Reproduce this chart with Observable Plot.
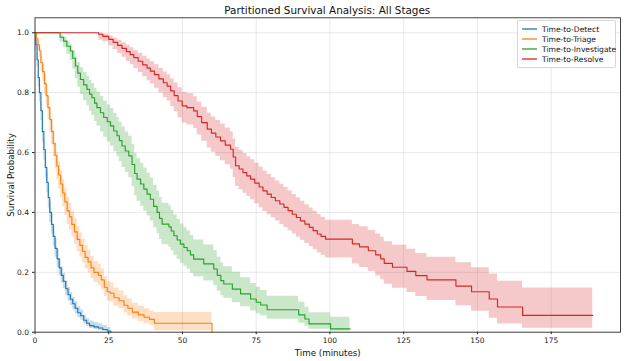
<!DOCTYPE html>
<html><head><meta charset="utf-8">
<script src="https://cdn.jsdelivr.net/npm/d3@7"></script>
<script src="https://cdn.jsdelivr.net/npm/@observablehq/plot@0.6"></script>
<style>
html,body{margin:0;padding:0;background:#fff;}
body{font-family:"DejaVu Sans",sans-serif;}
#wrap{position:relative;width:624px;height:361px;overflow:hidden;}
#title{position:absolute;left:34.5px;width:585.5px;top:5px;text-align:center;font-size:10.4px;line-height:1;color:#111;white-space:nowrap;}
#legend{position:absolute;left:517px;top:20px;width:99px;box-sizing:border-box;padding:3px;border:1px solid #d6d6d6;border-radius:2px;background:rgba(255,255,255,0.85);}
.row{display:flex;align-items:center;height:10px;font-size:7.6px;color:#111;white-space:nowrap;}
.sw{width:16px;height:10px;margin-right:5px;flex:none;display:block;}
</style></head>
<body><div id="wrap"><div id="title"></div><div id="legend"></div></div>
<script>
// ---- data ----
const seriesNames = ["Time-to-Detect", "Time-to-Triage", "Time-to-Investigate", "Time-to-Resolve"];
const xTicks = [0, 25, 50, 75, 100, 125, 150, 175];
const yTicks = [0, 0.2, 0.4, 0.6, 0.8, 1.0];

const detectT  = [0, 0.3, 0.7, 1.1, 1.5, 2.0, 2.5, 3.0, 3.5, 4.0, 4.5, 5.0, 5.6, 6.2, 6.8, 7.5, 8.2, 8.9, 9.6, 10.4, 11.2, 12.0, 12.8, 13.6, 14.5, 15.5, 16.5, 17.5, 18.5, 20.0, 21.5, 23.0, 24.5, 25.7];
const detectS  = [1, 0.96, 0.91, 0.85, 0.80, 0.74, 0.67, 0.61, 0.55, 0.50, 0.45, 0.40, 0.36, 0.32, 0.28, 0.245, 0.215, 0.19, 0.17, 0.145, 0.125, 0.11, 0.095, 0.08, 0.065, 0.055, 0.04, 0.03, 0.022, 0.018, 0.014, 0.009, 0.004, 0];
const detectLo = [1, 0.94, 0.885, 0.82, 0.77, 0.707, 0.636, 0.575, 0.515, 0.465, 0.415, 0.366, 0.327, 0.288, 0.25, 0.216, 0.188, 0.164, 0.145, 0.122, 0.103, 0.089, 0.075, 0.062, 0.048, 0.04, 0.027, 0.019, 0.012, 0.009, 0.006, 0.003, 0.001, 0];
const detectHi = [1, 0.975, 0.93, 0.875, 0.827, 0.77, 0.702, 0.644, 0.585, 0.535, 0.485, 0.434, 0.394, 0.353, 0.312, 0.276, 0.245, 0.218, 0.197, 0.17, 0.149, 0.133, 0.117, 0.101, 0.085, 0.074, 0.057, 0.046, 0.037, 0.032, 0.028, 0.022, 0.016, 0];

const triageT  = [0, 0.4, 1.0, 1.5, 2.0, 2.6, 3.2, 3.8, 4.4, 5.0, 5.6, 6.2, 6.8, 7.4, 8.0, 8.7, 9.4, 10.1, 10.9, 11.7, 12.5, 13.4, 14.3, 15.2, 16.1, 17.0, 18.0, 19.0, 20.0, 21.5, 22.5, 23.5, 24.5, 25.5, 26.8, 28.5, 30.2, 31.5, 33.0, 35.0, 37.0, 38.8, 40.5, 60.0];
const triageS  = [1, 0.98, 0.96, 0.94, 0.90, 0.87, 0.83, 0.79, 0.75, 0.71, 0.67, 0.63, 0.59, 0.555, 0.525, 0.495, 0.465, 0.435, 0.405, 0.385, 0.36, 0.335, 0.31, 0.29, 0.27, 0.25, 0.235, 0.215, 0.20, 0.19, 0.175, 0.15, 0.135, 0.13, 0.115, 0.105, 0.09, 0.08, 0.067, 0.058, 0.05, 0.043, 0.03, 0];
const triageLo = [1, 0.965, 0.941, 0.918, 0.872, 0.839, 0.795, 0.752, 0.71, 0.668, 0.627, 0.586, 0.545, 0.51, 0.479, 0.449, 0.419, 0.39, 0.36, 0.341, 0.317, 0.293, 0.269, 0.25, 0.231, 0.212, 0.198, 0.179, 0.165, 0.156, 0.142, 0.119, 0.105, 0.1, 0.087, 0.078, 0.064, 0.055, 0.044, 0.036, 0.029, 0.023, 0.005, 0];
const triageHi = [1, 0.989, 0.974, 0.957, 0.922, 0.895, 0.86, 0.824, 0.786, 0.748, 0.71, 0.672, 0.633, 0.599, 0.569, 0.54, 0.51, 0.48, 0.45, 0.43, 0.404, 0.378, 0.352, 0.331, 0.311, 0.29, 0.274, 0.253, 0.237, 0.227, 0.211, 0.185, 0.169, 0.164, 0.148, 0.138, 0.122, 0.111, 0.097, 0.087, 0.078, 0.071, 0.066, 0];

const investT  = [0, 7.2, 8.5, 9.7, 10.8, 12.0, 12.8, 13.7, 14.5, 15.4, 16.5, 17.6, 18.5, 19.3, 20.2, 21.0, 22.2, 23.3, 24.5, 25.6, 26.7, 27.8, 28.6, 29.5, 30.6, 31.8, 32.9, 33.8, 34.6, 35.8, 36.9, 38.0, 39.1, 40.2, 41.4, 42.2, 43.1, 45.4, 46.2, 47.1, 48.2, 49.3, 50.5, 51.6, 52.7, 53.8, 57.2, 60.6, 61.8, 63.0, 64.0, 66.9, 69.7, 73.1, 75.0, 76.5, 78.7, 89.4, 91.5, 92.9, 100.2, 106.8];
const investS  = [1, 1, 0.985, 0.972, 0.955, 0.939, 0.915, 0.889, 0.865, 0.844, 0.826, 0.811, 0.795, 0.783, 0.765, 0.75, 0.733, 0.717, 0.703, 0.689, 0.672, 0.656, 0.64, 0.622, 0.605, 0.589, 0.56, 0.53, 0.511, 0.495, 0.478, 0.461, 0.444, 0.42, 0.40, 0.38, 0.361, 0.352, 0.338, 0.322, 0.308, 0.294, 0.283, 0.272, 0.258, 0.244, 0.228, 0.211, 0.19, 0.172, 0.161, 0.144, 0.128, 0.111, 0.1, 0.091, 0.075, 0.058, 0.044, 0.028, 0.011, 0.011];
const investLo = [1, 1, 0.968, 0.95, 0.928, 0.907, 0.878, 0.847, 0.818, 0.794, 0.773, 0.756, 0.738, 0.724, 0.704, 0.688, 0.669, 0.651, 0.636, 0.621, 0.603, 0.586, 0.569, 0.55, 0.533, 0.516, 0.486, 0.456, 0.437, 0.421, 0.404, 0.388, 0.371, 0.348, 0.329, 0.31, 0.292, 0.284, 0.271, 0.256, 0.243, 0.23, 0.22, 0.21, 0.197, 0.185, 0.171, 0.156, 0.137, 0.122, 0.113, 0.098, 0.085, 0.071, 0.062, 0.055, 0.043, 0.03, 0.02, 0.01, 0.003, 0.003];
const investHi = [1, 1, 0.993, 0.985, 0.972, 0.96, 0.941, 0.92, 0.9, 0.883, 0.867, 0.855, 0.841, 0.831, 0.815, 0.802, 0.787, 0.772, 0.759, 0.747, 0.731, 0.716, 0.701, 0.685, 0.669, 0.654, 0.627, 0.598, 0.58, 0.564, 0.548, 0.531, 0.515, 0.491, 0.471, 0.451, 0.431, 0.422, 0.407, 0.391, 0.376, 0.361, 0.349, 0.338, 0.323, 0.308, 0.291, 0.273, 0.25, 0.231, 0.219, 0.2, 0.182, 0.163, 0.15, 0.139, 0.12, 0.1, 0.083, 0.065, 0.05, 0.05];

const resolveT  = [0, 21.6, 23.0, 25.0, 26.5, 28.0, 29.5, 31.0, 32.3, 33.5, 35.0, 36.5, 38.0, 39.1, 40.5, 42.0, 43.5, 44.8, 46.0, 47.2, 48.5, 49.9, 51.5, 53.8, 55.0, 56.5, 58.4, 59.8, 61.3, 62.9, 64.5, 66.3, 67.2, 68.0, 69.2, 70.5, 71.8, 73.1, 74.5, 76.0, 77.3, 78.7, 80.1, 81.5, 83.0, 84.4, 85.8, 87.2, 88.6, 90.0, 91.5, 93.0, 94.3, 95.7, 97.0, 98.5, 107.6, 110.0, 113.0, 115.5, 117.2, 118.4, 121.2, 126.1, 129.1, 132.9, 142.7, 148.0, 154.0, 156.8, 165.3, 189.1];
const resolveS  = [1, 0.995, 0.988, 0.978, 0.968, 0.958, 0.948, 0.937, 0.927, 0.917, 0.905, 0.893, 0.882, 0.872, 0.86, 0.846, 0.833, 0.822, 0.806, 0.79, 0.772, 0.756, 0.75, 0.739, 0.72, 0.70, 0.678, 0.665, 0.652, 0.639, 0.625, 0.611, 0.585, 0.556, 0.545, 0.533, 0.522, 0.511, 0.498, 0.485, 0.472, 0.461, 0.45, 0.439, 0.428, 0.417, 0.406, 0.394, 0.383, 0.372, 0.361, 0.35, 0.339, 0.328, 0.32, 0.311, 0.295, 0.285, 0.272, 0.258, 0.245, 0.23, 0.217, 0.203, 0.189, 0.175, 0.154, 0.135, 0.111, 0.084, 0.056, 0.056];
const resolveLo = [1, 0.975, 0.97, 0.957, 0.944, 0.931, 0.918, 0.905, 0.893, 0.881, 0.867, 0.853, 0.84, 0.829, 0.815, 0.799, 0.784, 0.772, 0.754, 0.736, 0.716, 0.699, 0.692, 0.68, 0.659, 0.638, 0.615, 0.601, 0.587, 0.573, 0.559, 0.544, 0.517, 0.487, 0.476, 0.464, 0.453, 0.442, 0.429, 0.416, 0.403, 0.392, 0.382, 0.371, 0.36, 0.35, 0.339, 0.328, 0.317, 0.307, 0.296, 0.286, 0.275, 0.265, 0.257, 0.248, 0.228, 0.216, 0.203, 0.188, 0.175, 0.16, 0.147, 0.133, 0.119, 0.106, 0.088, 0.07, 0.047, 0.027, 0.013, 0.013];
const resolveHi = [1, 0.999, 0.995, 0.989, 0.982, 0.975, 0.967, 0.958, 0.95, 0.942, 0.932, 0.922, 0.912, 0.903, 0.893, 0.881, 0.869, 0.86, 0.846, 0.832, 0.816, 0.801, 0.796, 0.786, 0.769, 0.751, 0.731, 0.719, 0.707, 0.695, 0.682, 0.669, 0.645, 0.618, 0.608, 0.597, 0.586, 0.576, 0.564, 0.551, 0.538, 0.527, 0.516, 0.505, 0.494, 0.483, 0.472, 0.46, 0.449, 0.437, 0.426, 0.415, 0.404, 0.393, 0.384, 0.374, 0.36, 0.352, 0.34, 0.328, 0.316, 0.302, 0.29, 0.277, 0.263, 0.25, 0.232, 0.215, 0.194, 0.17, 0.148, 0.148];

// ---- styles ----
const colors = ["#1f77b4", "#ff7f0e", "#2ca02c", "#d62728"];

const groups = [
  [detectT, detectS, detectLo, detectHi],
  [triageT, triageS, triageLo, triageHi],
  [investT, investS, investLo, investHi],
  [resolveT, resolveS, resolveLo, resolveHi]
];
const rows = [];
groups.forEach(([T, S, L, H], gi) => {
  T.forEach((t, i) => rows.push({series: seriesNames[gi], t, s: S[i], lo: L[i], hi: H[i]}));
});

const seriesMarks = [];
seriesNames.forEach((name, gi) => {
  const d = rows.filter(r => r.series === name);
  seriesMarks.push(Plot.areaY(d, {x: "t", y1: "lo", y2: "hi", curve: "step-after", fill: colors[gi], fillOpacity: 0.25}));
  seriesMarks.push(Plot.line(d, {x: "t", y: "s", curve: "step-after", stroke: colors[gi], strokeWidth: 1.15}));
});

const chart = Plot.plot({
  width: 624, height: 361,
  marginLeft: 34.5, marginRight: 4, marginTop: 17.3, marginBottom: 29.3,
  style: {fontFamily: "DejaVu Sans, sans-serif", fontSize: "7.5px", color: "#222", background: "#fff", overflow: "visible"},
  x: {domain: [0, 198.5]},
  y: {domain: [0, 1.05]},
  marks: [
    Plot.gridX(xTicks, {stroke: "#b0b0b0", strokeOpacity: 0.35, strokeWidth: 0.8}),
    Plot.gridY(yTicks, {stroke: "#b0b0b0", strokeOpacity: 0.35, strokeWidth: 0.8}),
    ...seriesMarks,
    Plot.frame({stroke: "#333", strokeWidth: 0.9}),
    Plot.axisX(xTicks, {tickSize: 2.5, tickPadding: 3.3, tickFormat: d => String(d), label: "Time (minutes)", labelAnchor: "center", labelArrow: "none", labelOffset: 24, fontSize: 7.5}),
    Plot.axisY(yTicks, {tickSize: 2.5, tickPadding: 3.5, tickFormat: d3.format(".1f"), label: "Survival Probability", labelAnchor: "center", labelArrow: "none", labelOffset: 27, fontSize: 7.5})
  ]
});

chart.querySelectorAll("[aria-label='x-axis label'] text, [aria-label='y-axis label'] text").forEach(t => {
  t.style.fontSize = "8.7px"; t.style.fill = "#111";
});

const wrap = document.getElementById("wrap");
wrap.appendChild(chart);
chart.style.position = "absolute"; chart.style.left = "0"; chart.style.top = "0";
const title = document.getElementById("title");
title.textContent = "Partitioned Survival Analysis: All Stages";
wrap.appendChild(title);
const legend = document.getElementById("legend");
const NS = "http://www.w3.org/2000/svg";
seriesNames.forEach((name, gi) => {
  const row = document.createElement("div"); row.className = "row";
  const sw = document.createElementNS(NS, "svg"); sw.setAttribute("class", "sw");
  sw.setAttribute("width", "16"); sw.setAttribute("height", "10");
  const ln = document.createElementNS(NS, "line");
  ln.setAttribute("x1", "1"); ln.setAttribute("x2", "16"); ln.setAttribute("y1", "5"); ln.setAttribute("y2", "5");
  ln.setAttribute("stroke", colors[gi]); ln.setAttribute("stroke-width", "1.3");
  sw.appendChild(ln);
  const tx = document.createElement("span"); tx.textContent = name;
  row.appendChild(sw); row.appendChild(tx); legend.appendChild(row);
});
wrap.appendChild(legend);
</script>
</body></html>
